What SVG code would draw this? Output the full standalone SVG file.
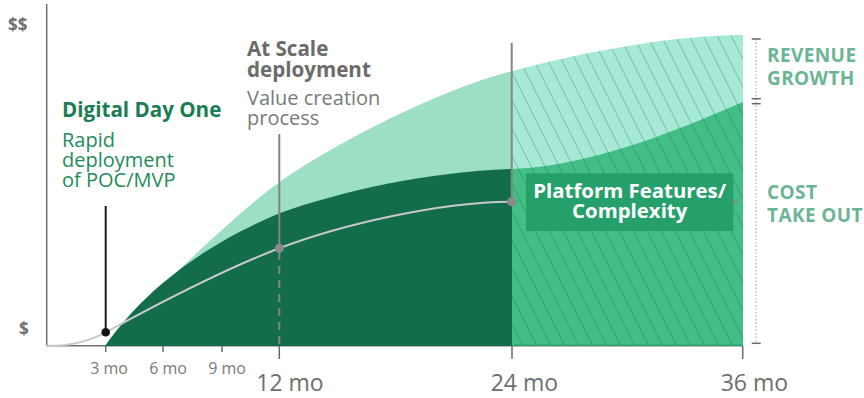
<svg xmlns="http://www.w3.org/2000/svg" width="864" height="398" viewBox="0 0 864 398">
  <defs>
    <style>
      text { font-family: "Open Sans", "Noto Sans", "Liberation Sans", sans-serif; }
      .bold { font-weight: 700; }
      .axis { stroke: #6f6f6f; stroke-width: 1.5; fill: none; }
      .tick { stroke: #6a6a6a; stroke-width: 1.5; }
      .money { font-size: 17px; font-weight: 700; fill: #707070; }
      .mo-s { font-size: 16px; fill: #7a7a7a; text-anchor: middle; }
      .mo-l { font-size: 23px; fill: #6e6e6e; text-anchor: middle; }
      .lead { stroke: #858585; stroke-width: 2; fill: none; }
      .side { font-size: 19px; font-weight: 700; fill: #6cb496; letter-spacing: 0.4px; }
      .cap { stroke: #666; stroke-width: 1.5; }
    </style>
    <!-- diagonal hatching for the 24–36 month band -->
    <pattern id="hatch" patternUnits="userSpaceOnUse" width="12.5" height="20" patternTransform="rotate(-26.57)">
      <line x1="0" y1="0" x2="0" y2="20" stroke="#0f5a3c" stroke-opacity="0.55" stroke-width="1"/>
    </pattern>
  </defs>

  <rect width="864" height="398" fill="#ffffff"/>

  <!-- axes -->
  <g id="axes">
    <line class="axis" x1="46.7" y1="4" x2="46.7" y2="346"/>
    <line class="axis" x1="46" y1="345.8" x2="743" y2="345.8"/>
    <text class="money" x="8" y="31">$$</text>
    <text class="money" x="19" y="335">$</text>
  </g>

  <!-- value areas -->
  <g id="areas">
    <path d="M105,346 C135,311 235,213 280,181.7 C340,140 440,90 512,71 L512,346 Z" fill="#9ddfc4"/>
    <path d="M105,346 C130,310 180,255 280,213 C345,190 430,172 512,169 L512,346 Z" fill="#136c4a"/>
    <path d="M512,71 C590,50 680,35 743,35 L743,346 L512,346 Z" fill="#a5e9d6"/>
    <path d="M512,169 C600,166 700,120 743,102 L743,346 L512,346 Z" fill="#43be87"/>
    <path d="M512,71 C590,50 680,35 743,35 L743,346 L512,346 Z" fill="url(#hatch)"/>
    <line x1="512" y1="345.3" x2="743" y2="345.3" stroke="#27a56d" stroke-width="1.5"/>
  </g>

  <!-- value creation curve -->
  <g id="curve">
    <path d="M46,346 C72,346 92,339.8 105.7,332.3 C163,301 230,267 279.3,248.3 C340,225 440,201.7 511.7,201.7" fill="none" stroke="#c9c9c9" stroke-width="2"/>
    <circle cx="735" cy="201.7" r="2.2" fill="#8a8a8a"/>
  </g>

  <!-- leader lines and milestone ticks -->
  <g id="connectors">
    <line x1="105.7" y1="206" x2="105.7" y2="332" stroke="#1a1a1a" stroke-width="2"/>
    <circle cx="105.7" cy="332.3" r="4.3" fill="#141414"/>
    <line class="tick" x1="105.7" y1="346" x2="105.7" y2="352"/>
    <line class="tick" x1="163" y1="346" x2="163" y2="352"/>
    <line class="tick" x1="222" y1="346" x2="222" y2="352"/>

    <line class="lead" x1="279.3" y1="134" x2="279.3" y2="248"/>
    <line class="lead" x1="279.3" y1="252" x2="279.3" y2="346" stroke-dasharray="8 6"/>
    <circle cx="279.3" cy="248.3" r="4.5" fill="#8a8a8a"/>
    <line class="tick" x1="279.3" y1="346" x2="279.3" y2="359"/>

    <line class="lead" x1="511.7" y1="43" x2="511.7" y2="201.7"/>
    <circle cx="511.7" cy="201.7" r="4.5" fill="#8a8a8a"/>
    <line class="tick" x1="512" y1="346" x2="512" y2="359"/>
    <line class="tick" x1="742.7" y1="346" x2="742.7" y2="359"/>
  </g>

  <!-- month labels -->
  <g id="months">
    <text class="mo-s" x="109" y="374">3 mo</text>
    <text class="mo-s" x="168" y="374">6 mo</text>
    <text class="mo-s" x="227" y="374">9 mo</text>
    <text class="mo-l" x="290" y="390.5">12 mo</text>
    <text class="mo-l" x="524.4" y="390.5">24 mo</text>
    <text class="mo-l" x="754.4" y="390.5">36 mo</text>
  </g>

  <g id="digital-day-one">
    <text class="bold" x="62" y="117" font-size="20.6" fill="#1b7d55">Digital Day One</text>
    <text x="62" y="147" font-size="20" fill="#1f8b5c">Rapid</text>
    <text x="62" y="167" font-size="20" fill="#1f8b5c">deployment</text>
    <text x="62" y="187" font-size="20" fill="#1f8b5c">of POC/MVP</text>
  </g>

  <g id="at-scale">
    <text class="bold" x="247" y="56" font-size="20.6" fill="#6b6b6b">At Scale</text>
    <text class="bold" x="247" y="76.5" font-size="20.6" fill="#6b6b6b">deployment</text>
    <text x="247" y="105" font-size="20" fill="#7a7a7a">Value creation</text>
    <text x="247" y="125" font-size="20" fill="#7a7a7a">process</text>
  </g>

  <g id="platform-features">
    <rect x="526" y="173.3" width="207.3" height="57.7" fill="#26a06b"/>
    <text class="bold" x="629.7" y="197.7" font-size="20.4" fill="#ffffff" text-anchor="middle">Platform Features/</text>
    <text class="bold" x="629.7" y="218.3" font-size="20.4" fill="#ffffff" text-anchor="middle">Complexity</text>
  </g>

  <!-- bracket on the right edge -->
  <g id="bracket">
    <line x1="756" y1="39" x2="756" y2="343" stroke="#9a9a9a" stroke-width="1" stroke-dasharray="1.5 2"/>
    <line class="cap" x1="751.7" y1="39" x2="760.7" y2="39"/>
    <line class="cap" x1="751.7" y1="98.7" x2="760.7" y2="98.7"/>
    <line class="cap" x1="751.7" y1="103.7" x2="760.7" y2="103.7"/>
    <line class="cap" x1="751.7" y1="343.3" x2="760.7" y2="343.3"/>
  </g>

  <g id="revenue-growth">
    <text class="side" x="767" y="61.7">REVENUE</text>
    <text class="side" x="767" y="85">GROWTH</text>
  </g>

  <g id="cost-take-out">
    <text class="side" x="767" y="198.5">COST</text>
    <text class="side" x="767" y="221.7">TAKE OUT</text>
  </g>
</svg>
